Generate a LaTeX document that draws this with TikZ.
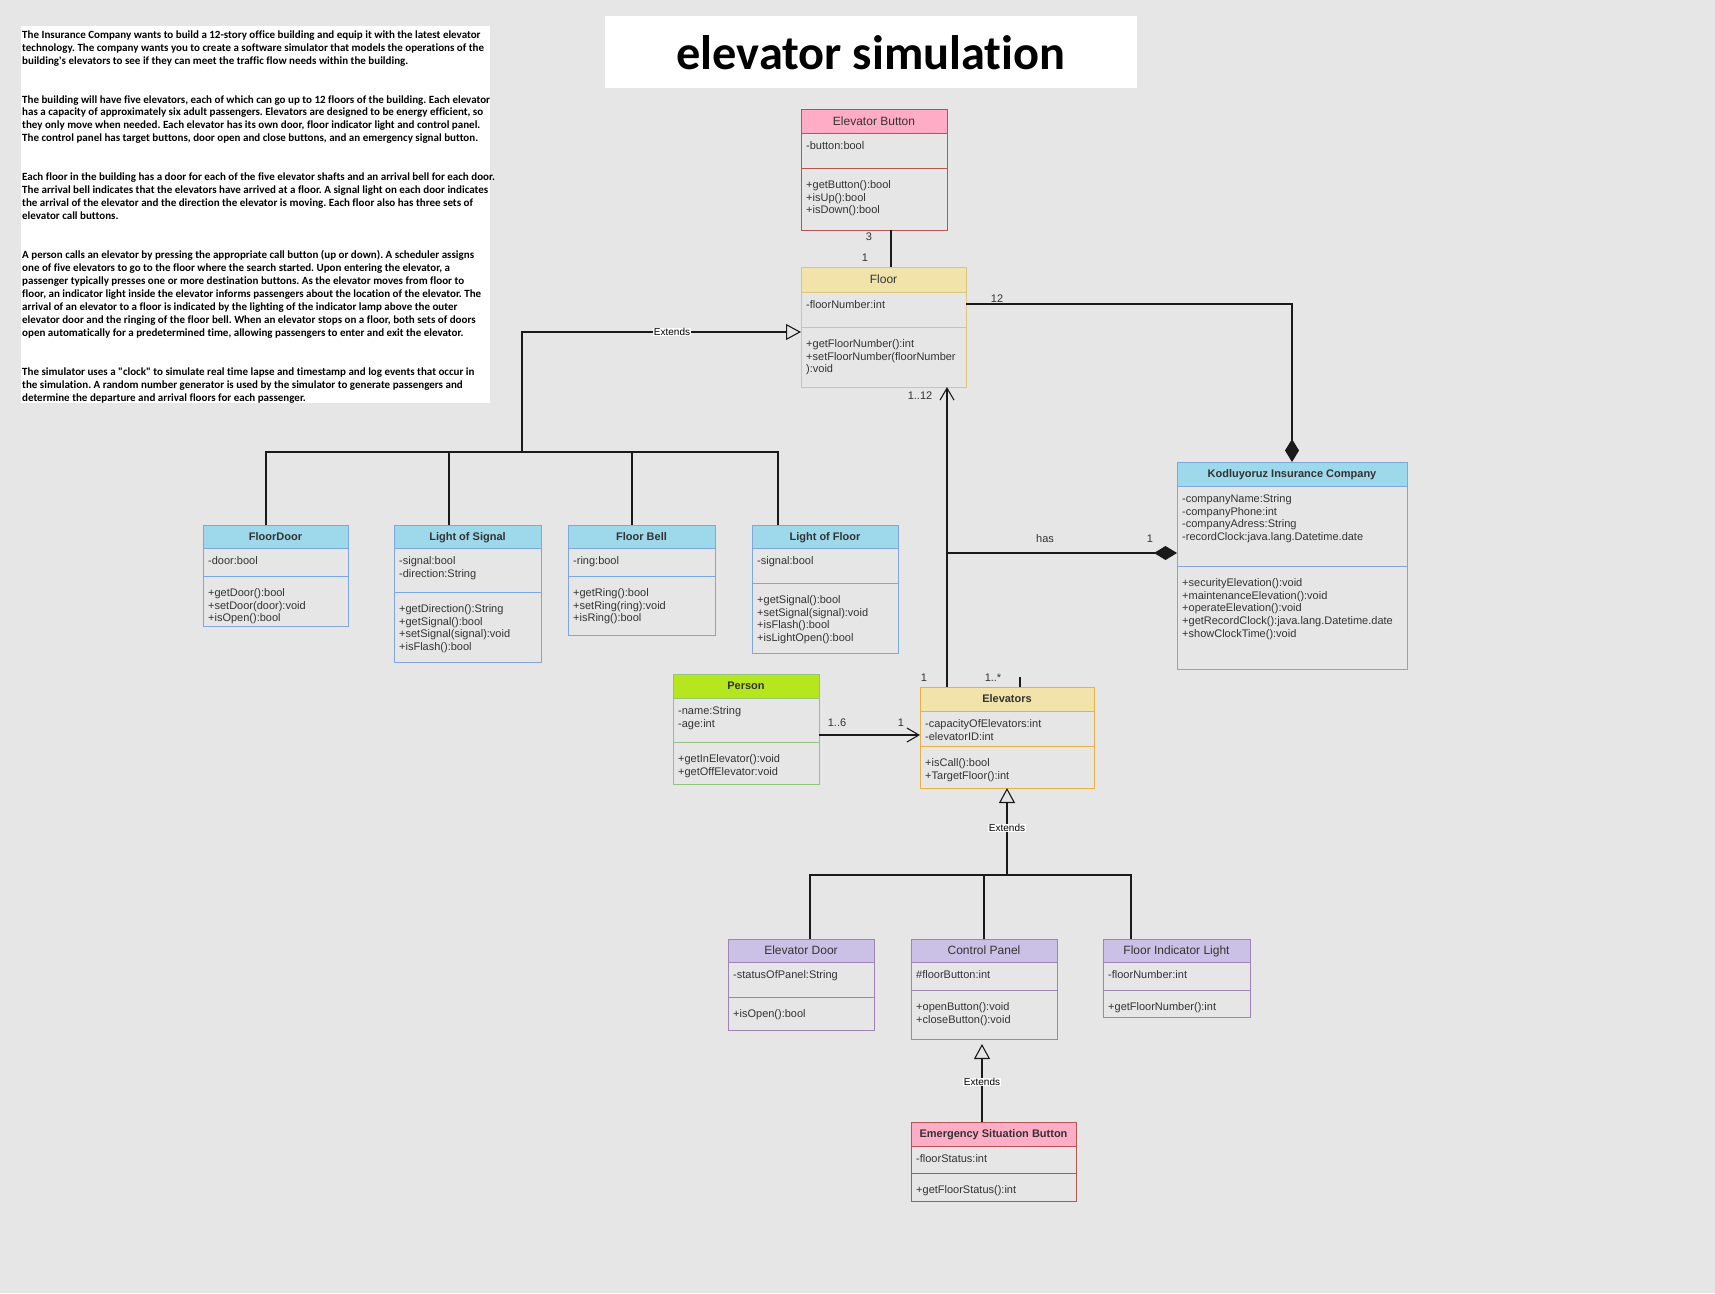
\documentclass[tikz,border=0pt]{standalone}
\usepackage{fontspec}
\newfontfamily\arialf{Liberation Sans}
\newfontfamily\calib{Carlito}[Ligatures={CommonOff}]
\usetikzlibrary{arrows.meta}
\definecolor{bg}{HTML}{E6E6E6}
\definecolor{txt}{HTML}{333333}
\definecolor{lnc}{HTML}{1A1A1A}
\definecolor{pkhd}{HTML}{FFADC7}
\definecolor{pkln}{HTML}{B85450}
\definecolor{flhd}{HTML}{F2E3AB}
\definecolor{flln}{HTML}{DCC57E}
\definecolor{elhd}{HTML}{F2E3AB}
\definecolor{elln}{HTML}{E8B040}
\definecolor{blhd}{HTML}{9DD8EB}
\definecolor{blln}{HTML}{7EA6E0}
\definecolor{grhd}{HTML}{B6E61E}
\definecolor{grln}{HTML}{93C47D}
\definecolor{puhd}{HTML}{CBC1E7}
\definecolor{puln}{HTML}{9F82B8}
\newcommand\fs{\rule{0pt}{11pt}}
\newcommand\fbs{\rule{0pt}{10pt}}
% #1 name, #2 x1, #3 y1, #4 x2, #5 y2, #6 header bottom, #7 divider, #8 colour prefix
\newcommand\umlbox[8]{%
  \fill[#8hd] (#2,#3) rectangle (#4,#6);
  \draw[#8ln, line width=1pt] (#2,#6) -- (#4,#6) (#2,#7) -- (#4,#7);
  \node[draw=#8ln, line width=1pt, inner sep=0pt, outer sep=0pt, anchor=north west,
        minimum width=#4pt-#2pt, minimum height=#5pt-#3pt] (#1) at (#2,#3) {};%
}
\begin{document}
\begin{tikzpicture}[x=1pt,y=-1pt,
  ttl/.style={font={\arialf\fontsize{12}{14}\selectfont}, text=txt, inner sep=0pt, text height=8.6pt, text depth=0pt},
  ttlb/.style={font={\arialf\bfseries\fontsize{11}{13}\selectfont}, text=txt, inner sep=0pt, text height=7.9pt, text depth=0pt},
  cell/.style={font={\arialf\fontsize{11}{12.8}\selectfont\lineskiplimit=-20pt}, text=txt, align=left, inner sep=0pt, anchor=north west},
  mult/.style={font={\arialf\fontsize{11}{13}\selectfont}, text=txt, inner sep=0pt},
  ext/.style={font={\arialf\fontsize{10}{12}\selectfont}, text=black, fill=white, inner sep=0.8pt},
  conn/.style={draw=lnc, line width=1.1pt},
  gen/.style={conn, -{Triangle[open, length=15pt, width=16pt]}},
  comp/.style={conn, -{Diamond[length=23pt, width=14pt]}},
  nav/.style={conn, -{Straight Barb[length=12pt, width=14pt]}}
]
\fill[bg] (0,0) rectangle (1715,1293);
\useasboundingbox (0,0) rectangle (1715,1293);

% description text
\fill[white] (21,26) rectangle (490,403);
\node[anchor=north west, inner sep=0pt, align=left, text=black,
      font={\calib\bfseries\fontsize{11}{12.96}\selectfont\frenchspacing\lineskiplimit=-20pt}] (desc) at (22,28) {\fbs
The Insurance Company wants to build a 12-story office building and equip it with the latest elevator\\
technology. The company wants you to create a software simulator that models the operations of the\\
building's elevators to see if they can meet the traffic flow needs within the building.\\[25.92pt]
The building will have five elevators, each of which can go up to 12 floors of the building. Each elevator\\
has a capacity of approximately six adult passengers. Elevators are designed to be energy efficient, so\\
they only move when needed. Each elevator has its own door, floor indicator light and control panel.\\
The control panel has target buttons, door open and close buttons, and an emergency signal button.\\[25.92pt]
Each floor in the building has a door for each of the five elevator shafts and an arrival bell for each door.\\
The arrival bell indicates that the elevators have arrived at a floor. A signal light on each door indicates\\
the arrival of the elevator and the direction the elevator is moving. Each floor also has three sets of\\
elevator call buttons.\\[25.92pt]
A person calls an elevator by pressing the appropriate call button (up or down). A scheduler assigns\\
one of five elevators to go to the floor where the search started. Upon entering the elevator, a\\
passenger typically presses one or more destination buttons. As the elevator moves from floor to\\
floor, an indicator light inside the elevator informs passengers about the location of the elevator. The\\
arrival of an elevator to a floor is indicated by the lighting of the indicator lamp above the outer\\
elevator door and the ringing of the floor bell. When an elevator stops on a floor, both sets of doors\\
open automatically for a predetermined time, allowing passengers to enter and exit the elevator.\\[25.92pt]
The simulator uses a "clock" to simulate real time lapse and timestamp and log events that occur in\\
the simulation. A random number generator is used by the simulator to generate passengers and\\
determine the departure and arrival floors for each passenger.};

% title
\fill[white] (605,16) rectangle (1137,88);
\node[anchor=base, inner sep=0pt, font={\calib\bfseries\fontsize{48.4}{56}\selectfont}] (title) at (871,69) {elevator simulation};

% classes
\umlbox{eb}{801}{109}{947}{230}{133}{168}{pk}
\node[ttl] (eb-t) at (874,121) {Elevator Button};
\node[cell] (eb-a) at (806,138) {\fs -button:bool};
\node[cell] (eb-m) at (806,177) {\fs +getButton():bool\\+isUp():bool\\+isDown():bool};

\umlbox{fl}{801}{267}{966}{387}{292}{327}{fl}
\node[ttl] (fl-t) at (883.5,279.5) {Floor};
\node[cell] (fl-a) at (806,297) {\fs -floorNumber:int};
\node[cell] (fl-m) at (806,336) {\fs +getFloorNumber():int\\+setFloorNumber(floorNumber\\):void};

\umlbox{co}{1177}{462}{1407}{669}{486}{566}{bl}
\node[ttlb] (co-t) at (1292,474) {Kodluyoruz Insurance Company};
\node[cell] (co-a) at (1182,491) {\fs -companyName:String\\-companyPhone:int\\-companyAdress:String\\-recordClock:java.lang.Datetime.date};
\node[cell] (co-m) at (1182,575) {\fs +securityElevation():void\\+maintenanceElevation():void\\+operateElevation():void\\+getRecordClock():java.lang.Datetime.date\\+showClockTime():void};

\umlbox{fd}{203}{525}{348}{626}{548}{576}{bl}
\node[ttlb] (fd-t) at (275.5,536.5) {FloorDoor};
\node[cell] (fd-a) at (208,553) {\fs -door:bool};
\node[cell] (fd-m) at (208,585) {\fs +getDoor():bool\\+setDoor(door):void\\+isOpen():bool};

\umlbox{ls}{394}{525}{541}{662}{548}{592}{bl}
\node[ttlb] (ls-t) at (467.5,536.5) {Light of Signal};
\node[cell] (ls-a) at (399,553) {\fs -signal:bool\\-direction:String};
\node[cell] (ls-m) at (399,601) {\fs +getDirection():String\\+getSignal():bool\\+setSignal(signal):void\\+isFlash():bool};

\umlbox{fb}{568}{525}{715}{635}{548}{576}{bl}
\node[ttlb] (fb-t) at (641.5,536.5) {Floor Bell};
\node[cell] (fb-a) at (573,553) {\fs -ring:bool};
\node[cell] (fb-m) at (573,585) {\fs +getRing():bool\\+setRing(ring):void\\+isRing():bool};

\umlbox{lf}{752}{525}{898}{653}{548}{583}{bl}
\node[ttlb] (lf-t) at (825,536.5) {Light of Floor};
\node[cell] (lf-a) at (757,553) {\fs -signal:bool};
\node[cell] (lf-m) at (757,592) {\fs +getSignal():bool\\+setSignal(signal):void\\+isFlash():bool\\+isLightOpen():bool};

\umlbox{pe}{673}{674}{819}{784}{698}{742}{gr}
\node[ttlb] (pe-t) at (746,686) {Person};
\node[cell] (pe-a) at (678,703) {\fs -name:String\\-age:int};
\node[cell] (pe-m) at (678,751) {\fs +getInElevator():void\\+getOffElevator:void};

\umlbox{el}{920}{687}{1094}{788}{711}{746}{el}
\node[ttlb] (el-t) at (1007,699) {Elevators};
\node[cell] (el-a) at (925,716) {\fs -capacityOfElevators:int\\-elevatorID:int};
\node[cell] (el-m) at (925,755) {\fs +isCall():bool\\+TargetFloor():int};

\umlbox{ed}{728}{939}{874}{1030}{962}{997}{pu}
\node[ttl] (ed-t) at (801,950.5) {Elevator Door};
\node[cell] (ed-a) at (733,967) {\fs -statusOfPanel:String};
\node[cell] (ed-m) at (733,1006) {\fs +isOpen():bool};

\umlbox{cp}{911}{939}{1057}{1039}{962}{990}{pu}
\node[ttl] (cp-t) at (984,950.5) {Control Panel};
\node[cell] (cp-a) at (916,967) {\fs \#floorButton:int};
\node[cell] (cp-m) at (916,999) {\fs +openButton():void\\+closeButton():void};

\umlbox{fi}{1103}{939}{1250}{1017}{962}{990}{pu}
\node[ttl] (fi-t) at (1176.5,950.5) {Floor Indicator Light};
\node[cell] (fi-a) at (1108,967) {\fs -floorNumber:int};
\node[cell] (fi-m) at (1108,999) {\fs +getFloorNumber():int};

\umlbox{es}{911}{1122}{1076}{1201}{1146}{1173}{pk}
\node[ttlb] (es-t) at (993.5,1134) {Emergency Situation Button};
\node[cell] (es-a) at (916,1151) {\fs -floorStatus:int};
\node[cell] (es-m) at (916,1182) {\fs +getFloorStatus():int};

% helper coordinates
\coordinate (xeb) at (891,0);
\coordinate (yco) at (0,304);
\coordinate (xel) at (947,0);
\coordinate (hasj) at (947,553);
\coordinate (ype) at (0,735);
\coordinate (xstub) at (1020,0);
\coordinate (busA) at (522,452);
\coordinate (yfl) at (0,332);
\coordinate (xfd) at (266,0);
\coordinate (xls) at (449,0);
\coordinate (xfb) at (632,0);
\coordinate (xlf) at (778,0);
\coordinate (busB) at (1007,875);
\coordinate (xed) at (810,0);
\coordinate (xcp) at (984,0);
\coordinate (xfi) at (1131,0);
\coordinate (xes) at (982,0);

% connectors
\draw[conn] (xeb |- eb.south) -- (xeb |- fl.north);
\draw[comp] (fl.east |- yco) -| (co.north);
\draw[nav] (xel |- el.north) -- (xel |- fl.south);
\draw[comp] (hasj) -- (co.west |- hasj);
\draw[nav] (pe.east |- ype) -- (el.west |- ype);
\draw[conn] (xstub |- el.north) -- ++(0,-10);

\draw[conn] (xfd |- fd.north) -- (xfd |- busA) -- (xlf |- busA) -- (xlf |- lf.north);
\draw[conn] (xls |- ls.north) -- (xls |- busA);
\draw[conn] (xfb |- fb.north) -- (xfb |- busA);
\draw[gen] (busA) |- (fl.west |- yfl);

\draw[conn] (xed |- ed.north) -- (xed |- busB) -- (xfi |- busB) -- (xfi |- fi.north);
\draw[conn] (xcp |- cp.north) -- (xcp |- busB);
\draw[gen] (busB) -- (busB |- el.south);
\draw[gen, shorten >=5pt] (xes |- es.north) -- (xes |- cp.south);

% labels
\node[ext] (ext1) at (672,332) {Extends};
\node[ext] (ext2) at (1007,828) {Extends};
\node[ext] (ext3) at (982,1082) {Extends};
\node[mult] (m1) at (869,237) {3};
\node[mult] (m2) at (865,258) {1};
\node[mult] (m3) at (997,299) {12};
\node[mult] (m4) at (920,396) {1..12};
\node[mult] (m5) at (1045,539) {has};
\node[mult] (m6) at (1150,539) {1};
\node[mult] (m7) at (924,678) {1};
\node[mult] (m8) at (993,678) {1..*};
\node[mult] (m9) at (837,723) {1..6};
\node[mult] (m10) at (901,723) {1};
\end{tikzpicture}
\end{document}
